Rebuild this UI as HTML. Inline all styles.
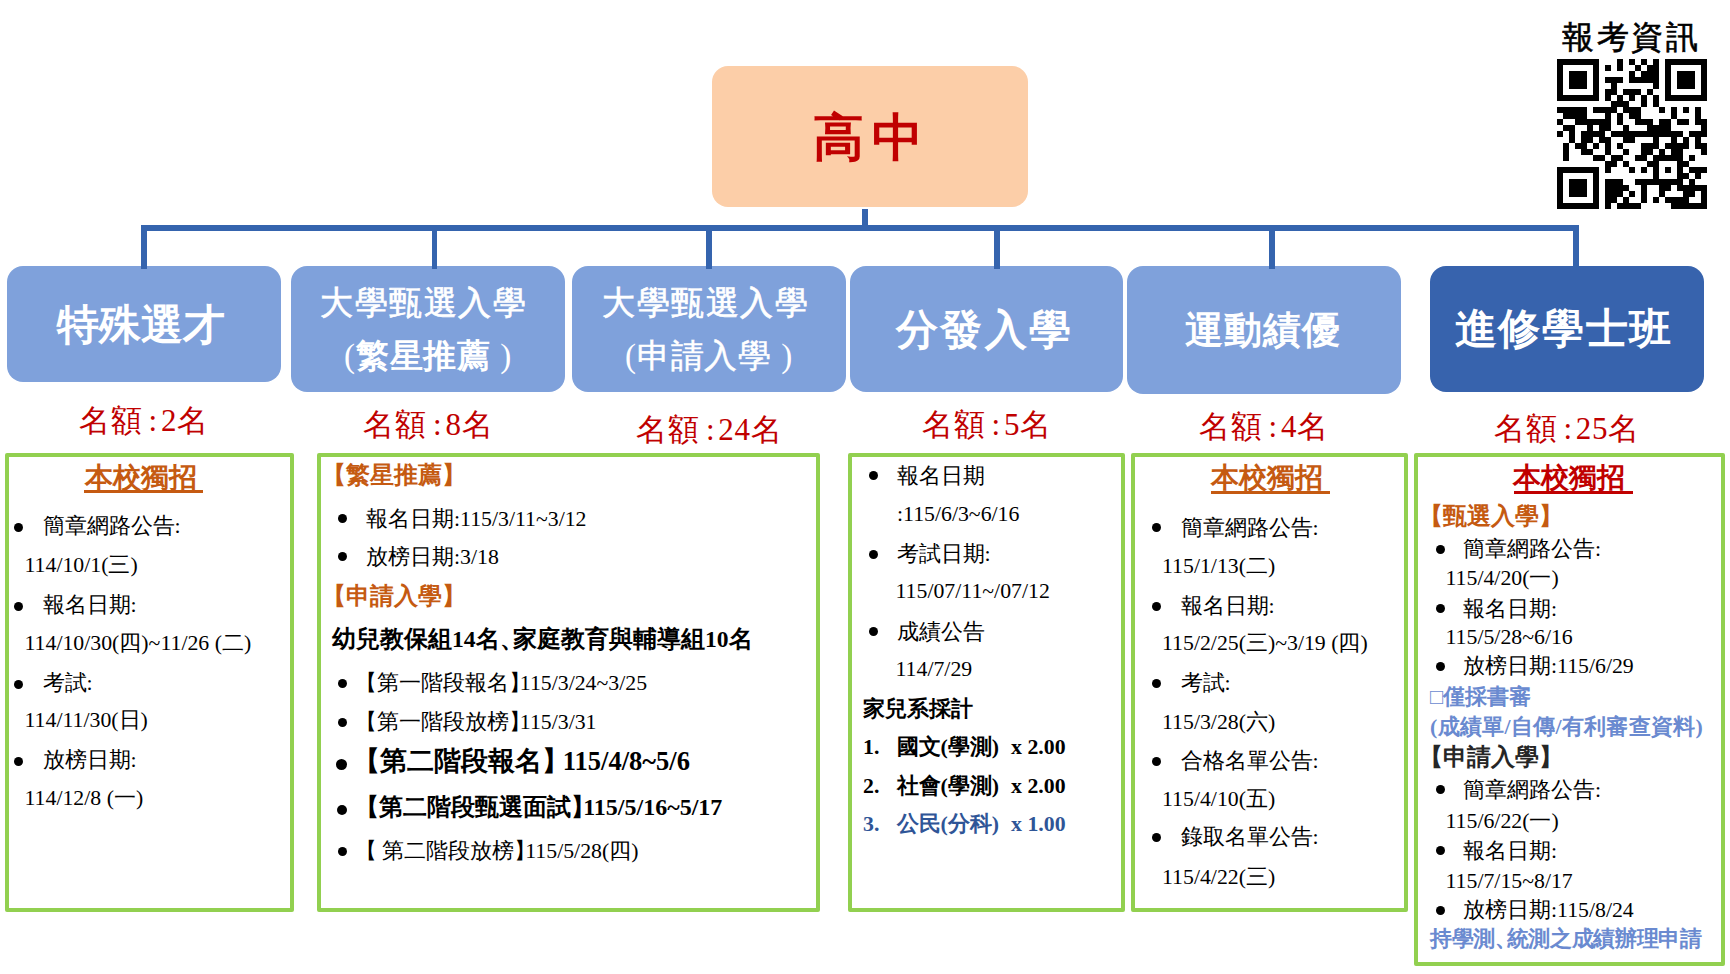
<!DOCTYPE html>
<html lang="zh-Hant">
<head>
<meta charset="utf-8">
<title>高中 升學管道</title>
<style>
html,body{margin:0;padding:0;background:#fff;}
body{width:1730px;height:974px;overflow:hidden;position:relative;font-family:"Liberation Serif",serif;color:#000;}
.a{position:absolute;}
.t{position:absolute;white-space:nowrap;}
.rb{position:absolute;border-radius:16px;}
.lb{background:#7fa1db;}
.db{background:#3763ad;}
.ln{position:absolute;background:#3564ae;}
.gb{position:absolute;border:4px solid #92d050;box-sizing:border-box;border-radius:2px;}
.hd{font-family:"Liberation Sans",sans-serif;font-weight:bold;color:#fff;text-align:center;}
.q{font-size:31px;color:#c00000;line-height:36px;letter-spacing:0.8px;}
.s{font-size:21.8px;line-height:26px;}
.cb{margin-right:-0.5em;}
.bu{position:absolute;width:9px;height:9px;border-radius:50%;background:#000;}
.or{color:#c55a11;font-weight:bold;}
.u{}
.ul{position:absolute;height:3px;}
</style>
</head>
<body>

<div class="rb" style="left:712px;top:66px;width:316px;height:141px;background:#fccea8;"></div>
<div class="t" style="left:712px;top:102px;width:316px;text-align:center;font-size:51px;line-height:72px;color:#c00000;font-weight:bold;letter-spacing:8px;text-indent:4px;">高中</div>
<div class="ln" style="left:862px;top:209px;width:6px;height:19px;"></div>
<div class="ln" style="left:141px;top:225px;width:1438px;height:6px;"></div>
<div class="ln" style="left:141px;top:225px;width:6px;height:44px;"></div>
<div class="ln" style="left:432px;top:225px;width:5px;height:44px;"></div>
<div class="ln" style="left:706px;top:225px;width:6px;height:44px;"></div>
<div class="ln" style="left:994px;top:225px;width:6px;height:44px;"></div>
<div class="ln" style="left:1269px;top:225px;width:6px;height:44px;"></div>
<div class="ln" style="left:1573px;top:225px;width:6px;height:44px;"></div>
<div class="rb lb" style="left:7px;top:266px;width:274px;height:116px;"></div>
<div class="rb lb" style="left:291px;top:266px;width:274px;height:126px;"></div>
<div class="rb lb" style="left:572px;top:266px;width:274px;height:126px;"></div>
<div class="rb lb" style="left:850px;top:266px;width:273px;height:126px;"></div>
<div class="rb lb" style="left:1127px;top:266px;width:274px;height:128px;"></div>
<div class="rb db" style="left:1430px;top:266px;width:274px;height:126px;"></div>
<div class="ln" style="left:141px;top:260px;width:6px;height:9px;"></div>
<div class="ln" style="left:432px;top:260px;width:5px;height:9px;"></div>
<div class="ln" style="left:706px;top:260px;width:6px;height:9px;"></div>
<div class="ln" style="left:994px;top:260px;width:6px;height:9px;"></div>
<div class="ln" style="left:1269px;top:260px;width:6px;height:9px;"></div>
<div class="ln" style="left:1573px;top:260px;width:6px;height:9px;"></div>
<div class="t hd" style="left:4px;top:300px;width:274px;font-size:42px;line-height:50px;">特殊選才</div>
<div class="t hd" style="left:286px;top:283px;width:274px;font-size:33px;line-height:40px;font-weight:normal;letter-spacing:1.6px;text-indent:1.6px;-webkit-text-stroke:0.7px #fff;">大學甄選入學</div>
<div class="t hd" style="left:291px;top:336px;width:274px;font-size:33px;line-height:40px;letter-spacing:0.8px;"><span style="font-family:'Liberation Serif',serif;font-weight:normal">(</span>繁星推薦<span style="font-family:'Liberation Serif',serif;font-weight:normal"> )</span></div>
<div class="t hd" style="left:568px;top:283px;width:274px;font-size:33px;line-height:40px;font-weight:normal;letter-spacing:1.6px;text-indent:1.6px;-webkit-text-stroke:0.7px #fff;">大學甄選入學</div>
<div class="t hd" style="left:572px;top:336px;width:274px;font-size:33px;line-height:40px;font-weight:normal;-webkit-text-stroke:0.5px #fff;letter-spacing:0.8px;"><span style="font-family:'Liberation Serif',serif;-webkit-text-stroke:0">(</span>申請入學<span style="font-family:'Liberation Serif',serif;-webkit-text-stroke:0"> )</span></div>
<div class="t hd" style="left:847px;top:305px;width:273px;font-size:42px;line-height:50px;letter-spacing:2.3px;text-indent:2.3px;">分發入學</div>
<div class="t hd" style="left:1125px;top:306px;width:274px;font-size:38px;line-height:48px;letter-spacing:1px;text-indent:1px;">運動績優</div>
<div class="t hd" style="left:1426px;top:304px;width:274px;font-size:42px;line-height:50px;letter-spacing:1.7px;text-indent:1.7px;">進修學士班</div>
<div class="t q" style="left:44px;top:402.5px;width:200px;text-align:center;">名額<span style="margin:0 3px 0 6px">:</span>2名</div>
<div class="t q" style="left:328.5px;top:406.5px;width:200px;text-align:center;">名額<span style="margin:0 3px 0 6px">:</span>8名</div>
<div class="t q" style="left:609.5px;top:411.5px;width:200px;text-align:center;">名額<span style="margin:0 3px 0 6px">:</span>24名</div>
<div class="t q" style="left:887px;top:406.5px;width:200px;text-align:center;">名額<span style="margin:0 3px 0 6px">:</span>5名</div>
<div class="t q" style="left:1164px;top:408.5px;width:200px;text-align:center;">名額<span style="margin:0 3px 0 6px">:</span>4名</div>
<div class="t q" style="left:1467px;top:411px;width:200px;text-align:center;">名額<span style="margin:0 3px 0 6px">:</span>25名</div>
<div class="t" style="left:1530px;top:17px;width:200px;text-align:center;font-size:32px;line-height:40px;-webkit-text-stroke:0.6px #000;letter-spacing:2.4px;text-indent:2.4px;">報考資訊</div>
<svg style="position:absolute;left:1557px;top:59px" width="150" height="150" viewBox="0 0 150 150" shape-rendering="crispEdges"><g fill="#000"><rect x="0" y="0" width="42" height="6"/><rect x="60" y="0" width="6" height="6"/><rect x="72" y="0" width="6" height="6"/><rect x="84" y="0" width="6" height="6"/><rect x="96" y="0" width="6" height="6"/><rect x="108" y="0" width="42" height="6"/><rect x="0" y="6" width="6" height="6"/><rect x="36" y="6" width="6" height="6"/><rect x="48" y="6" width="6" height="6"/><rect x="60" y="6" width="6" height="6"/><rect x="78" y="6" width="6" height="6"/><rect x="90" y="6" width="12" height="6"/><rect x="108" y="6" width="6" height="6"/><rect x="144" y="6" width="6" height="6"/><rect x="0" y="12" width="6" height="6"/><rect x="12" y="12" width="18" height="6"/><rect x="36" y="12" width="6" height="6"/><rect x="72" y="12" width="6" height="6"/><rect x="84" y="12" width="18" height="6"/><rect x="108" y="12" width="6" height="6"/><rect x="120" y="12" width="18" height="6"/><rect x="144" y="12" width="6" height="6"/><rect x="0" y="18" width="6" height="6"/><rect x="12" y="18" width="18" height="6"/><rect x="36" y="18" width="6" height="6"/><rect x="48" y="18" width="18" height="6"/><rect x="72" y="18" width="30" height="6"/><rect x="108" y="18" width="6" height="6"/><rect x="120" y="18" width="18" height="6"/><rect x="144" y="18" width="6" height="6"/><rect x="0" y="24" width="6" height="6"/><rect x="12" y="24" width="18" height="6"/><rect x="36" y="24" width="6" height="6"/><rect x="54" y="24" width="6" height="6"/><rect x="96" y="24" width="6" height="6"/><rect x="108" y="24" width="6" height="6"/><rect x="120" y="24" width="18" height="6"/><rect x="144" y="24" width="6" height="6"/><rect x="0" y="30" width="6" height="6"/><rect x="36" y="30" width="6" height="6"/><rect x="48" y="30" width="12" height="6"/><rect x="66" y="30" width="18" height="6"/><rect x="90" y="30" width="6" height="6"/><rect x="108" y="30" width="6" height="6"/><rect x="144" y="30" width="6" height="6"/><rect x="0" y="36" width="42" height="6"/><rect x="48" y="36" width="6" height="6"/><rect x="60" y="36" width="6" height="6"/><rect x="72" y="36" width="6" height="6"/><rect x="84" y="36" width="6" height="6"/><rect x="96" y="36" width="6" height="6"/><rect x="108" y="36" width="42" height="6"/><rect x="54" y="42" width="18" height="6"/><rect x="84" y="42" width="6" height="6"/><rect x="96" y="42" width="6" height="6"/><rect x="0" y="48" width="30" height="6"/><rect x="36" y="48" width="24" height="6"/><rect x="66" y="48" width="18" height="6"/><rect x="102" y="48" width="6" height="6"/><rect x="114" y="48" width="6" height="6"/><rect x="126" y="48" width="6" height="6"/><rect x="138" y="48" width="6" height="6"/><rect x="6" y="54" width="24" height="6"/><rect x="48" y="54" width="6" height="6"/><rect x="60" y="54" width="6" height="6"/><rect x="72" y="54" width="12" height="6"/><rect x="114" y="54" width="6" height="6"/><rect x="138" y="54" width="6" height="6"/><rect x="0" y="60" width="6" height="6"/><rect x="18" y="60" width="36" height="6"/><rect x="60" y="60" width="6" height="6"/><rect x="78" y="60" width="18" height="6"/><rect x="102" y="60" width="12" height="6"/><rect x="120" y="60" width="12" height="6"/><rect x="138" y="60" width="12" height="6"/><rect x="6" y="66" width="12" height="6"/><rect x="30" y="66" width="6" height="6"/><rect x="42" y="66" width="12" height="6"/><rect x="66" y="66" width="6" height="6"/><rect x="90" y="66" width="24" height="6"/><rect x="144" y="66" width="6" height="6"/><rect x="0" y="72" width="6" height="6"/><rect x="12" y="72" width="6" height="6"/><rect x="24" y="72" width="24" height="6"/><rect x="54" y="72" width="72" height="6"/><rect x="132" y="72" width="18" height="6"/><rect x="12" y="78" width="6" height="6"/><rect x="24" y="78" width="12" height="6"/><rect x="42" y="78" width="12" height="6"/><rect x="66" y="78" width="12" height="6"/><rect x="96" y="78" width="6" height="6"/><rect x="114" y="78" width="6" height="6"/><rect x="126" y="78" width="6" height="6"/><rect x="138" y="78" width="6" height="6"/><rect x="6" y="84" width="6" height="6"/><rect x="18" y="84" width="12" height="6"/><rect x="36" y="84" width="6" height="6"/><rect x="48" y="84" width="6" height="6"/><rect x="60" y="84" width="6" height="6"/><rect x="84" y="84" width="18" height="6"/><rect x="108" y="84" width="24" height="6"/><rect x="138" y="84" width="12" height="6"/><rect x="6" y="90" width="6" height="6"/><rect x="24" y="90" width="12" height="6"/><rect x="48" y="90" width="6" height="6"/><rect x="66" y="90" width="6" height="6"/><rect x="84" y="90" width="12" height="6"/><rect x="102" y="90" width="6" height="6"/><rect x="114" y="90" width="12" height="6"/><rect x="144" y="90" width="6" height="6"/><rect x="6" y="96" width="6" height="6"/><rect x="36" y="96" width="12" height="6"/><rect x="54" y="96" width="12" height="6"/><rect x="78" y="96" width="12" height="6"/><rect x="96" y="96" width="30" height="6"/><rect x="132" y="96" width="6" height="6"/><rect x="48" y="102" width="12" height="6"/><rect x="66" y="102" width="6" height="6"/><rect x="90" y="102" width="12" height="6"/><rect x="120" y="102" width="12" height="6"/><rect x="0" y="108" width="42" height="6"/><rect x="48" y="108" width="6" height="6"/><rect x="72" y="108" width="6" height="6"/><rect x="84" y="108" width="6" height="6"/><rect x="96" y="108" width="6" height="6"/><rect x="108" y="108" width="6" height="6"/><rect x="120" y="108" width="6" height="6"/><rect x="132" y="108" width="18" height="6"/><rect x="0" y="114" width="6" height="6"/><rect x="36" y="114" width="6" height="6"/><rect x="96" y="114" width="6" height="6"/><rect x="120" y="114" width="12" height="6"/><rect x="138" y="114" width="6" height="6"/><rect x="0" y="120" width="6" height="6"/><rect x="12" y="120" width="18" height="6"/><rect x="36" y="120" width="6" height="6"/><rect x="48" y="120" width="18" height="6"/><rect x="78" y="120" width="48" height="6"/><rect x="132" y="120" width="6" height="6"/><rect x="0" y="126" width="6" height="6"/><rect x="12" y="126" width="18" height="6"/><rect x="36" y="126" width="6" height="6"/><rect x="48" y="126" width="24" height="6"/><rect x="84" y="126" width="6" height="6"/><rect x="102" y="126" width="12" height="6"/><rect x="120" y="126" width="30" height="6"/><rect x="0" y="132" width="6" height="6"/><rect x="12" y="132" width="18" height="6"/><rect x="36" y="132" width="6" height="6"/><rect x="48" y="132" width="18" height="6"/><rect x="72" y="132" width="6" height="6"/><rect x="84" y="132" width="6" height="6"/><rect x="102" y="132" width="6" height="6"/><rect x="126" y="132" width="12" height="6"/><rect x="144" y="132" width="6" height="6"/><rect x="0" y="138" width="6" height="6"/><rect x="36" y="138" width="6" height="6"/><rect x="48" y="138" width="12" height="6"/><rect x="66" y="138" width="6" height="6"/><rect x="84" y="138" width="6" height="6"/><rect x="96" y="138" width="6" height="6"/><rect x="108" y="138" width="24" height="6"/><rect x="144" y="138" width="6" height="6"/><rect x="0" y="144" width="42" height="6"/><rect x="48" y="144" width="6" height="6"/><rect x="60" y="144" width="24" height="6"/><rect x="114" y="144" width="36" height="6"/></g></svg>
<div class="gb" style="left:5px;top:453px;width:289px;height:459px;"></div>
<div class="gb" style="left:317px;top:453px;width:503px;height:459px;"></div>
<div class="gb" style="left:848px;top:453px;width:277px;height:459px;"></div>
<div class="gb" style="left:1131px;top:453px;width:277px;height:459px;"></div>
<div class="gb" style="left:1414px;top:453px;width:311px;height:513px;"></div>
<div class="t or" style="left:84.5px;top:461.5px;font-size:28px;line-height:32px;">本校獨招</div>
<div class="ul" style="left:84px;top:490.3px;width:119px;background:#c55a11"></div>
<div class="bu" style="left:14.0px;top:522.8px;width:9px;height:9px;"></div>
<div class="t s" style="left:42.5px;top:512.5px;">簡章網路公告:</div>
<div class="t s" style="left:24.5px;top:552.0px;">114/10/1(三)</div>
<div class="bu" style="left:14.0px;top:602.0px;width:9px;height:9px;"></div>
<div class="t s" style="left:42.5px;top:591.7px;">報名日期:</div>
<div class="t s" style="left:24.5px;top:629.7px;">114/10/30(四)~11/26 (二)</div>
<div class="bu" style="left:14.0px;top:680.3px;width:9px;height:9px;"></div>
<div class="t s" style="left:42.5px;top:670.0px;">考試:</div>
<div class="t s" style="left:24.5px;top:706.7px;">114/11/30(日)</div>
<div class="bu" style="left:14.0px;top:757.3px;width:9px;height:9px;"></div>
<div class="t s" style="left:42.5px;top:747.0px;">放榜日期:</div>
<div class="t s" style="left:24.5px;top:785.0px;">114/12/8 (一)</div>
<div class="t s or" style="left:321.5px;top:462.0px;font-size:24px;">【繁星推薦<span class="cb">】</span></div>
<div class="bu" style="left:338.3px;top:514.1px;width:9px;height:9px;"></div>
<div class="t s" style="left:366px;top:505.6px;">報名日期:115/3/11~3/12</div>
<div class="bu" style="left:338.3px;top:552.2px;width:9px;height:9px;"></div>
<div class="t s" style="left:366px;top:543.7px;">放榜日期:3/18</div>
<div class="t s or" style="left:321.5px;top:582.6px;font-size:24px;">【申請入學<span class="cb">】</span></div>
<div class="t s" style="left:332px;top:626.0px;font-weight:bold;font-size:23.6px;">幼兒教保組14名<span style="margin-right:-0.45em">、</span>家庭教育與輔導組10名</div>
<div class="bu" style="left:338.3px;top:679.0px;width:9px;height:9px;"></div>
<div class="t s" style="left:354.7px;top:670.0px;">【第一階段報名<span class="cb">】</span>115/3/24~3/25</div>
<div class="bu" style="left:338.3px;top:718.0px;width:9px;height:9px;"></div>
<div class="t s" style="left:354.7px;top:709.0px;">【第一階段放榜<span class="cb">】</span>115/3/31</div>
<div class="bu" style="left:336.0px;top:759.1px;width:11px;height:11px;"></div>
<div class="t s" style="left:353.4px;top:747.5px;font-weight:bold;font-size:26.5px;">【第二階段報名<span class="cb">】</span> 115/4/8~5/6</div>
<div class="bu" style="left:336.5px;top:804.5px;width:10px;height:10px;"></div>
<div class="t s" style="left:355.2px;top:794.0px;font-weight:bold;font-size:24px;">【第二階段甄選面試<span class="cb">】</span>115/5/16~5/17</div>
<div class="bu" style="left:338.3px;top:847.0px;width:9px;height:9px;"></div>
<div class="t s" style="left:354.7px;top:838.0px;">【 第二階段放榜<span class="cb">】</span>115/5/28(四)</div>
<div class="bu" style="left:868.5px;top:471.3px;width:9px;height:9px;"></div>
<div class="t s" style="left:896.5px;top:462.8px;">報名日期</div>
<div class="t s" style="left:897px;top:501.0px;">:115/6/3~6/16</div>
<div class="bu" style="left:868.5px;top:549.9px;width:9px;height:9px;"></div>
<div class="t s" style="left:896.5px;top:541.4px;">考試日期:</div>
<div class="t s" style="left:895.5px;top:578.4px;">115/07/11~/07/12</div>
<div class="bu" style="left:868.5px;top:627.3px;width:9px;height:9px;"></div>
<div class="t s" style="left:896.5px;top:618.8px;">成績公告</div>
<div class="t s" style="left:895.5px;top:655.8px;">114/7/29</div>
<div class="t s" style="left:863px;top:696.0px;font-weight:bold;">家兒系採計</div>
<div class="t s" style="left:863px;top:734.0px;font-weight:bold;"><span style="display:inline-block;width:33.5px">1.</span>國文(學測)<span style="margin-left:12px">x 2.00</span></div>
<div class="t s" style="left:863px;top:773.0px;font-weight:bold;"><span style="display:inline-block;width:33.5px">2.</span>社會(學測)<span style="margin-left:12px">x 2.00</span></div>
<div class="t s" style="left:863px;top:811.4px;font-weight:bold;color:#2f5597;"><span style="display:inline-block;width:33.5px">3.</span>公民(分科)<span style="margin-left:12px">x 1.00</span></div>
<div class="t or" style="left:1210.5px;top:461.5px;font-size:28px;line-height:32px;">本校獨招</div>
<div class="ul" style="left:1211px;top:490.5px;width:118.5px;background:#c55a11"></div>
<div class="bu" style="left:1151.5px;top:523.3px;width:9px;height:9px;"></div>
<div class="t s" style="left:1180.5px;top:514.8px;">簡章網路公告:</div>
<div class="t s" style="left:1162px;top:553.0px;">115/1/13(二)</div>
<div class="bu" style="left:1151.5px;top:601.9px;width:9px;height:9px;"></div>
<div class="t s" style="left:1180.5px;top:593.4px;">報名日期:</div>
<div class="t s" style="left:1162px;top:630.4px;">115/2/25(三)~3/19 (四)</div>
<div class="bu" style="left:1151.5px;top:678.9px;width:9px;height:9px;"></div>
<div class="t s" style="left:1180.5px;top:670.4px;">考試:</div>
<div class="t s" style="left:1162px;top:708.6px;">115/3/28(六)</div>
<div class="bu" style="left:1151.5px;top:756.5px;width:9px;height:9px;"></div>
<div class="t s" style="left:1180.5px;top:748.0px;">合格名單公告:</div>
<div class="t s" style="left:1162px;top:786.2px;">115/4/10(五)</div>
<div class="bu" style="left:1151.5px;top:832.9px;width:9px;height:9px;"></div>
<div class="t s" style="left:1180.5px;top:824.4px;">錄取名單公告:</div>
<div class="t s" style="left:1162px;top:863.9px;">115/4/22(三)</div>
<div class="t or" style="left:1513px;top:461.5px;font-size:28px;line-height:32px;color:#c00000;">本校獨招</div>
<div class="ul" style="left:1513.5px;top:491px;width:119px;background:#c00000"></div>
<div class="t s or" style="left:1418.7px;top:502.7px;font-size:24px;">【甄選入學<span class="cb">】</span></div>
<div class="bu" style="left:1435.5px;top:544.9px;width:9px;height:9px;"></div>
<div class="t s" style="left:1463px;top:536.4px;">簡章網路公告:</div>
<div class="t s" style="left:1445.5px;top:565.3px;">115/4/20(一)</div>
<div class="bu" style="left:1435.5px;top:604.0px;width:9px;height:9px;"></div>
<div class="t s" style="left:1463px;top:595.5px;">報名日期:</div>
<div class="t s" style="left:1445.5px;top:624.4px;">115/5/28~6/16</div>
<div class="bu" style="left:1435.5px;top:661.9px;width:9px;height:9px;"></div>
<div class="t s" style="left:1463px;top:653.4px;">放榜日期:115/6/29</div>
<div class="t s" style="left:1430px;top:684.3px;font-weight:bold;color:#6a8ad0;">□僅採書審</div>
<div class="t s" style="left:1430px;top:714.1px;font-weight:bold;color:#6a8ad0;letter-spacing:0.3px;">(成績單/自傳/有利審查資料)</div>
<div class="t s" style="left:1418.7px;top:744.4px;font-weight:bold;color:#262626;font-size:24px;">【申請入學<span class="cb">】</span></div>
<div class="bu" style="left:1435.5px;top:785.2px;width:9px;height:9px;"></div>
<div class="t s" style="left:1463px;top:776.7px;">簡章網路公告:</div>
<div class="t s" style="left:1445.5px;top:808.0px;">115/6/22(一)</div>
<div class="bu" style="left:1435.5px;top:846.2px;width:9px;height:9px;"></div>
<div class="t s" style="left:1463px;top:837.7px;">報名日期:</div>
<div class="t s" style="left:1445.5px;top:867.5px;">115/7/15~8/17</div>
<div class="bu" style="left:1435.5px;top:905.8px;width:9px;height:9px;"></div>
<div class="t s" style="left:1463px;top:897.3px;">放榜日期:115/8/24</div>
<div class="t s" style="left:1430px;top:925.5px;font-weight:bold;color:#6a8ad0;letter-spacing:-0.35px;">持學測<span style="margin-right:-0.45em">、</span>統測之成績辦理申請</div>
</body>
</html>
